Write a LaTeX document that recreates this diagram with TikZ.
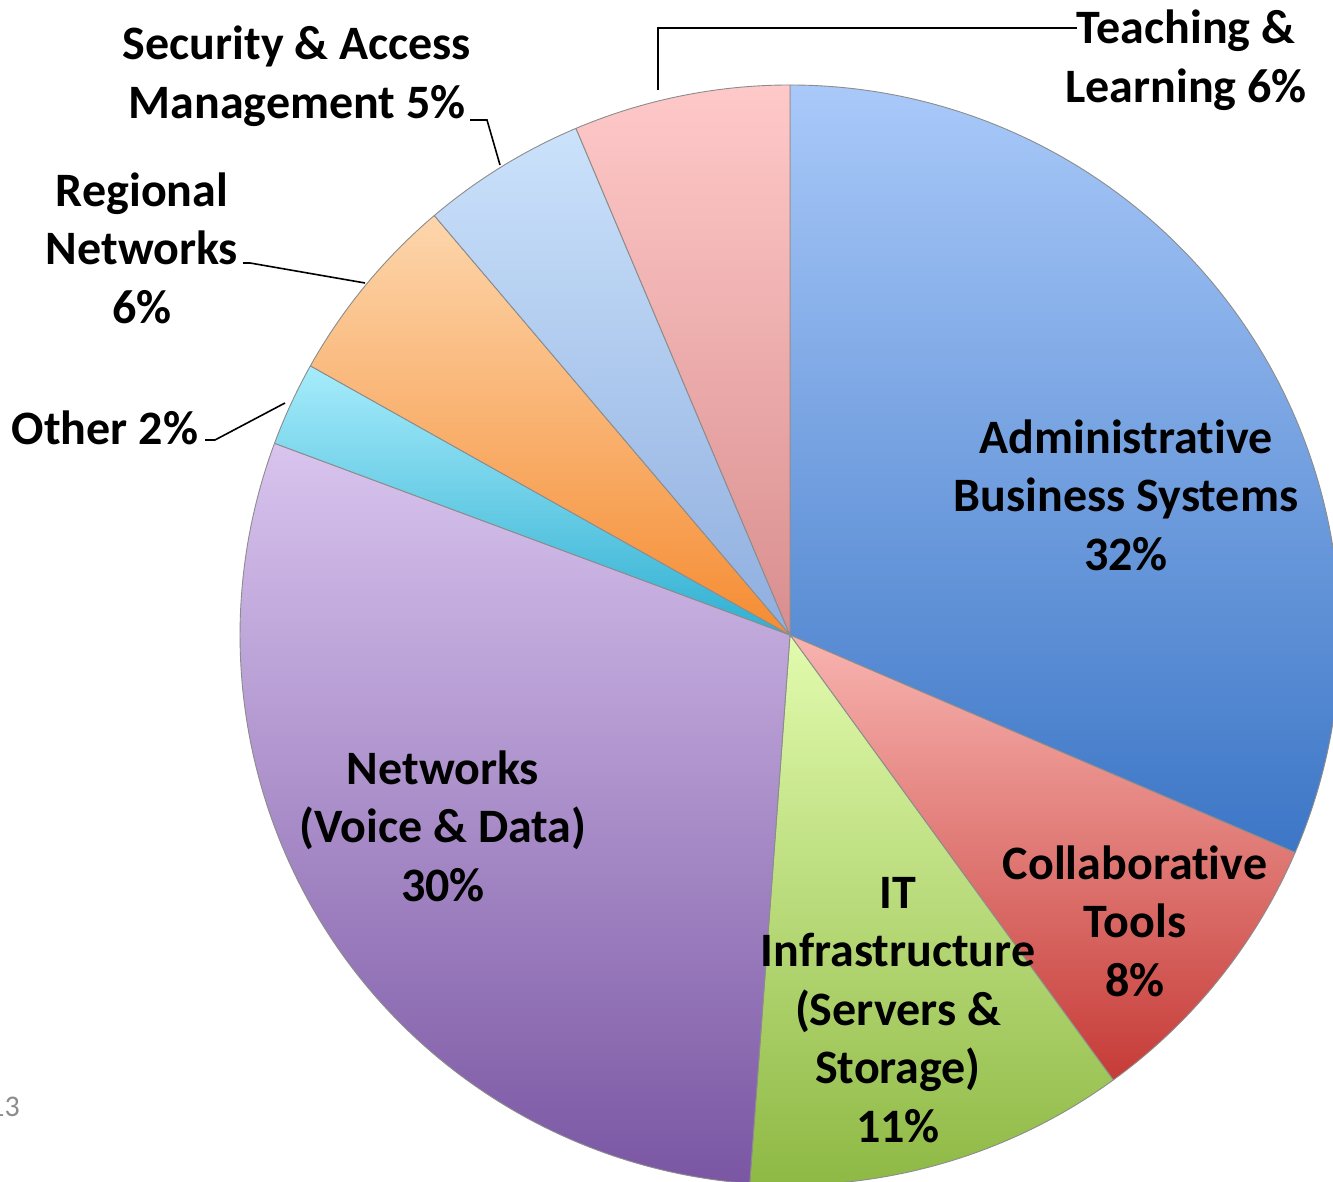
\documentclass[tikz,border=0pt]{standalone}
\usepackage{fontspec}
\setmainfont{Carlito}[Ligatures=NoCommon]
\definecolor{admT}{HTML}{A9C9F9}\definecolor{admB}{HTML}{3C76C6}
\definecolor{colT}{HTML}{F8B4B0}\definecolor{colB}{HTML}{C63B37}
\definecolor{itT}{HTML}{E2FBAE}\definecolor{itB}{HTML}{8DB843}
\definecolor{netT}{HTML}{D8C4EE}\definecolor{netB}{HTML}{7A56A3}
\definecolor{othT}{HTML}{A6ECFB}\definecolor{othB}{HTML}{2FAFD2}
\definecolor{regT}{HTML}{FDD6AC}\definecolor{regB}{HTML}{F58C32}
\definecolor{secT}{HTML}{CBE2FB}\definecolor{secB}{HTML}{8FAEDF}
\definecolor{teaT}{HTML}{FFC9C9}\definecolor{teaB}{HTML}{D98E8E}
\definecolor{pgc}{HTML}{8C8C8C}
\begin{document}
\begin{tikzpicture}[x=1pt,y=1pt,
  lbl/.style={font=\fontsize{48}{58.5}\selectfont\bfseries, align=center, inner sep=0pt},
  lead/.style={black, line width=1.6pt},
  sl/.style={draw=black!45, line width=0.9pt, line join=round}]
\useasboundingbox (0,0) rectangle (1333,1182);
\coordinate (C) at (790,547);
% slices
\shadedraw[sl, top color=admT, bottom color=admB] (C) -- ++(90:550) arc[start angle=90, end angle=-23.3, radius=550] -- cycle;
\shadedraw[sl, top color=colT, bottom color=colB] (C) -- ++(-23.3:550) arc[start angle=-23.3, end angle=-54, radius=550] -- cycle;
\shadedraw[sl, top color=itT, bottom color=itB] (C) -- ++(-54:550) arc[start angle=-54, end angle=-94.2, radius=550] -- cycle;
\shadedraw[sl, top color=netT, bottom color=netB] (C) -- ++(-94.2:550) arc[start angle=-94.2, end angle=-200.4, radius=550] -- cycle;
\shadedraw[sl, top color=othT, bottom color=othB] (C) -- ++(-200.4:550) arc[start angle=-200.4, end angle=-209.3, radius=550] -- cycle;
\shadedraw[sl, top color=regT, bottom color=regB] (C) -- ++(-209.3:550) arc[start angle=-209.3, end angle=-229.7, radius=550] -- cycle;
\shadedraw[sl, top color=secT, bottom color=secB] (C) -- ++(-229.7:550) arc[start angle=-229.7, end angle=-247.1, radius=550] -- cycle;
\shadedraw[sl, top color=teaT, bottom color=teaB] (C) -- ++(-247.1:550) arc[start angle=-247.1, end angle=-270, radius=550] -- cycle;
% labels
\node[lbl] (teach) at (1186,1122) {Teaching \&\\Learning 6\%};
\node[lbl] (sec) at (297,1106) {Security \& Access\\Management 5\%};
\node[lbl] (reg) at (142,934) {Regional\\Networks\\6\%};
\node[lbl] (oth) at (105,754) {Other 2\%};
\node[lbl] (adm) at (1126,687) {Administrative\\Business Systems\\32\%};
\node[lbl] (col) at (1135,261) {Collaborative\\Tools\\8\%};
\node[lbl] (itn) at (898,172) {IT\\Infrastructure\\(Servers \&\\Storage)\\11\%};
\node[lbl] (net) at (443,356) {Networks\\(Voice \& Data)\\30\%};
\node[font=\fontsize{30}{36}\selectfont, text=pgc, anchor=east, inner sep=0pt] (pg) at (20,75) {13};
% leader lines
\coordinate (tP) at (658,1092); \coordinate (tE) at (1077,1154);
\coordinate (sP) at (500,1017); \coordinate (sB) at (487,1062); \coordinate (sE) at (470,1062);
\coordinate (rP) at (365,899); \coordinate (rB) at (250,919); \coordinate (rE) at (243,919);
\coordinate (oP) at (285,779); \coordinate (oB) at (215,742); \coordinate (oE) at (205,742);
\draw[lead] (tP) |- (tE);
\draw[lead] (sP) -- (sB) -- (sE);
\draw[lead] (rP) -- (rB) -- (rE);
\draw[lead] (oP) -- (oB) -- (oE);
\end{tikzpicture}
\end{document}
